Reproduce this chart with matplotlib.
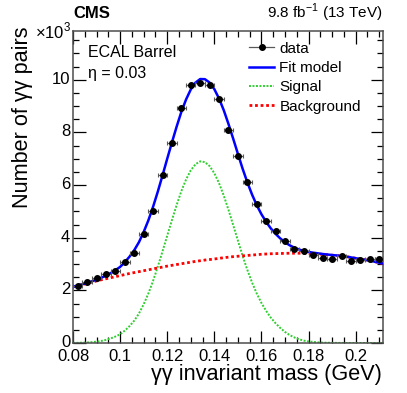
import numpy as np
import matplotlib
matplotlib.use("Agg")
import matplotlib.pyplot as plt
import matplotlib.transforms as mtransforms
from matplotlib.lines import Line2D
from matplotlib.ticker import MultipleLocator

plt.rcParams['font.family'] = ['Liberation Sans', 'DejaVu Sans']
plt.rcParams['mathtext.fontset'] = 'custom'
plt.rcParams['mathtext.rm'] = 'Liberation Sans'

############################
# data (counts in units of 10^3)
data_mass = [0.082, 0.086, 0.090, 0.094, 0.098, 0.102, 0.106, 0.110, 0.114, 0.118,
             0.122, 0.126, 0.130, 0.134, 0.138, 0.142, 0.146, 0.150, 0.154, 0.158,
             0.162, 0.166, 0.170, 0.174, 0.178, 0.182, 0.186, 0.190, 0.194, 0.198,
             0.202, 0.206, 0.210]
data_counts = [2.17, 2.32, 2.47, 2.62, 2.74, 3.07, 3.42, 4.14, 5.02, 6.39,
               7.60, 8.93, 9.81, 9.89, 9.81, 9.27, 8.10, 7.10, 6.12, 5.28,
               4.64, 4.26, 3.88, 3.57, 3.49, 3.34, 3.22, 3.19, 3.31, 3.11,
               3.14, 3.18, 3.20]
bin_half_width = 0.002

curve_mass = np.round(np.arange(0.080, 0.2121, 0.002), 3)
signal = [0.004, 0.007, 0.012, 0.020, 0.032, 0.051, 0.078, 0.118, 0.174, 0.245,
          0.33, 0.47, 0.64, 0.85, 1.12, 1.47, 1.88, 2.36, 2.90, 3.48,
          4.08, 4.67, 5.24, 5.77, 6.21, 6.56, 6.79, 6.90, 6.87, 6.72,
          6.45, 6.07, 5.60, 5.06, 4.48, 3.89, 3.31, 2.78, 2.30, 1.88,
          1.52, 1.22, 0.96, 0.75, 0.57, 0.42, 0.30, 0.21, 0.14, 0.09,
          0.06, 0.04, 0.025, 0.015, 0.010, 0.006, 0.004, 0.002, 0.001, 0.001,
          0.0, 0.0, 0.0, 0.0, 0.0, 0.0, 0.0]
background = [2.13, 2.175, 2.22, 2.265, 2.31, 2.355, 2.40, 2.44, 2.48, 2.52,
              2.56, 2.60, 2.64, 2.675, 2.71, 2.745, 2.78, 2.815, 2.85, 2.885,
              2.92, 2.95, 2.98, 3.01, 3.04, 3.07, 3.10, 3.125, 3.15, 3.17,
              3.19, 3.215, 3.24, 3.26, 3.28, 3.295, 3.31, 3.325, 3.34, 3.355,
              3.37, 3.38, 3.39, 3.395, 3.40, 3.405, 3.41, 3.41, 3.41, 3.405,
              3.40, 3.39, 3.38, 3.365, 3.35, 3.335, 3.32, 3.30, 3.28, 3.25,
              3.22, 3.19, 3.16, 3.125, 3.09, 3.05, 3.01]
fit_model = np.array(signal) + np.array(background)

#############################################
# figure
fig = plt.figure(figsize=(4.07, 3.93), dpi=100)
ax = fig.add_axes([73/407, 1 - 343/393, 310/407, 312/393])

green = '#2fcf2f'
ax.plot(curve_mass, signal, color=green, lw=1.4, ls=(0, (1, 0.8)), zorder=2)
ax.plot(curve_mass, background, color='red', lw=2.0, ls=(0, (1, 1)), zorder=3)
ax.plot(curve_mass, fit_model, color='blue', lw=1.8, zorder=4)
ax.errorbar(data_mass, data_counts, xerr=bin_half_width, fmt='o', color='black',
            ecolor='0.35', elinewidth=0.9, capsize=1.5, capthick=0.8, ms=4, zorder=5)

ax.set_xlim(0.08, 0.2116)
ax.set_ylim(0, 11.85)
ax.xaxis.set_major_locator(MultipleLocator(0.02))
ax.xaxis.set_minor_locator(MultipleLocator(0.005))
ax.yaxis.set_major_locator(MultipleLocator(2))
ax.yaxis.set_minor_locator(MultipleLocator(0.5))
ax.set_xticks([0.08, 0.10, 0.12, 0.14, 0.16, 0.18, 0.20])
ax.set_xticklabels(['0.08', '0.1', '0.12', '0.14', '0.16', '0.18', '0.2'])
ax.tick_params(which='both', direction='in', top=True, right=True, labelsize=12, width=0.9)
ax.tick_params(which='major', length=9)
ax.tick_params(which='minor', length=4.5)
ax.tick_params(axis='x', pad=4.5)
ax.tick_params(axis='y', pad=2)
for s in ax.spines.values():
    s.set_color('0.3')
    s.set_linewidth(1.1)

# nudge y tick labels up a little, like the reference
shift = mtransforms.ScaledTranslation(0, 2/100, fig.dpi_scale_trans)
for lab in ax.get_yticklabels():
    lab.set_transform(lab.get_transform() + shift)

# labels
fig.text(382/407, 1 - 364/393, 'γγ invariant mass (GeV)', ha='right', va='top', fontsize=15.6)
fig.text(12/407, 1 - 27/393, 'Number of γγ pairs', ha='left', va='top', rotation=90, fontsize=15.6)
ax.text(-0.005, 1.0, r'$\times$10$^{3}$', transform=ax.transAxes, ha='right', va='center', fontsize=12)
fig.text(73/407, 1 - 13/393, 'CMS', ha='left', va='center', fontsize=12, fontweight='bold')
fig.text(383/407, 1 - 13/393, r'9.8 fb$^{-1}$ (13 TeV)', ha='right', va='center', fontsize=11)

ax.text(0.05, 0.93, 'ECAL Barrel', transform=ax.transAxes, ha='left', va='center', fontsize=11.5)
ax.text(0.05, 0.865, 'η = 0.03', transform=ax.transAxes, ha='left', va='center', fontsize=11.5)

handles = [Line2D([], [], color='0.35', lw=0.9, marker='o', mfc='black', mec='black', ms=4),
           Line2D([], [], color='blue', lw=1.8),
           Line2D([], [], color=green, lw=1.4, ls=(0, (1, 0.8))),
           Line2D([], [], color='red', lw=2.0, ls=(0, (1, 1)))]
labels = ['data', 'Fit model', 'Signal', 'Background']
ax.legend(handles, labels, loc='upper left', bbox_to_anchor=(0.533, 1.0), frameon=False,
          fontsize=11, handlelength=1.65, handletextpad=0.35, labelspacing=0.35, borderaxespad=0.3)

fig.savefig('out.png', dpi=100)
